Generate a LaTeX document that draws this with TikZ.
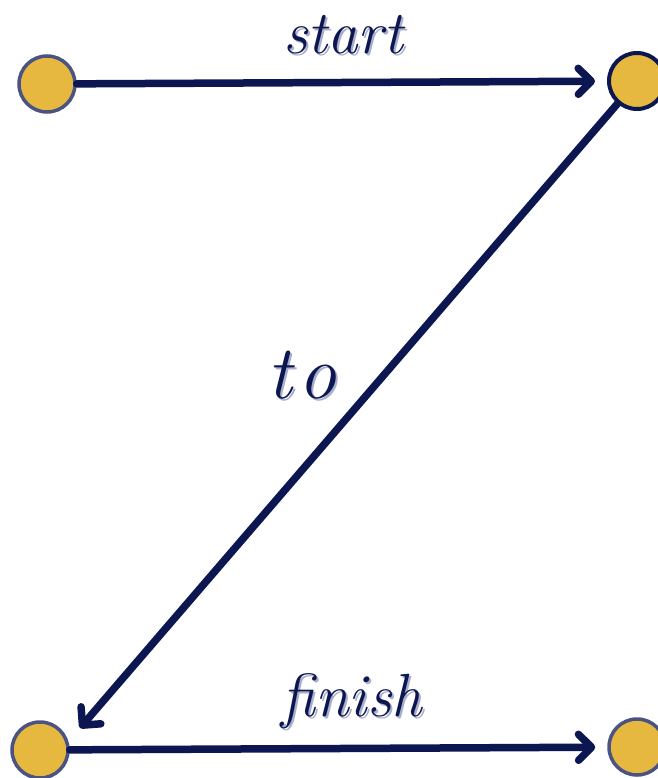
\documentclass[tikz,border=0pt]{standalone}
\usepackage{xcolor}
\usepackage{tikz}
\usetikzlibrary{arrows.meta}
\definecolor{navy}{HTML}{0C1650}
\definecolor{gold}{HTML}{E6B83F}
\definecolor{slate}{HTML}{4B5382}
\definecolor{shade}{HTML}{A8AECB}
\newcommand{\shd}[1]{\rlap{\kern2pt\raisebox{-2pt}{\color{shade}#1}}#1}
\tikzset{
  dot/.style={circle, draw=slate, line width=3.5pt, fill=gold,
              minimum size=56pt, inner sep=0pt},
  darkdot/.style={dot, draw=navy, line width=4pt},
  flow/.style={-{Straight Barb[length=13pt, width=26pt, round]},
               line width=7.5pt, draw=navy, line cap=round},
  lbl/.style={text=navy, anchor=base, inner sep=0pt,
              font=\fontsize{61}{63}\selectfont\itshape},
}
\begin{document}
\begin{tikzpicture}[x=1pt, y=-1pt]
\useasboundingbox (0,0) rectangle (657,778);
% ---- the four dots ----
\node[dot] (topleft) at (47,84) {};
\node[darkdot] (topright) at (637,81) {};
\node[dot] (botleft) at (40,750) {};
\node[dot] (botright) at (637,747) {};
\coordinate (tohead) at (80,728);
% ---- connectors ----
\draw[flow, shorten >=12pt] (topleft) -- (topright);
\draw[flow] (topright) -- (tohead);
\draw[flow, shorten >=12pt] (botleft) -- (botright);
% ---- labels, with a light drop shade ----
\node[lbl] (startlbl) at (343,54) {\shd{start}};
\node[lbl, font=\fontsize{76}{78}\selectfont\itshape] (tolbl) at (302,398)
  {\shd{t\kern6pt o}};
\node[lbl] (finishlbl) at (352,716) {\shd{finish}};
\end{tikzpicture}
\end{document}
